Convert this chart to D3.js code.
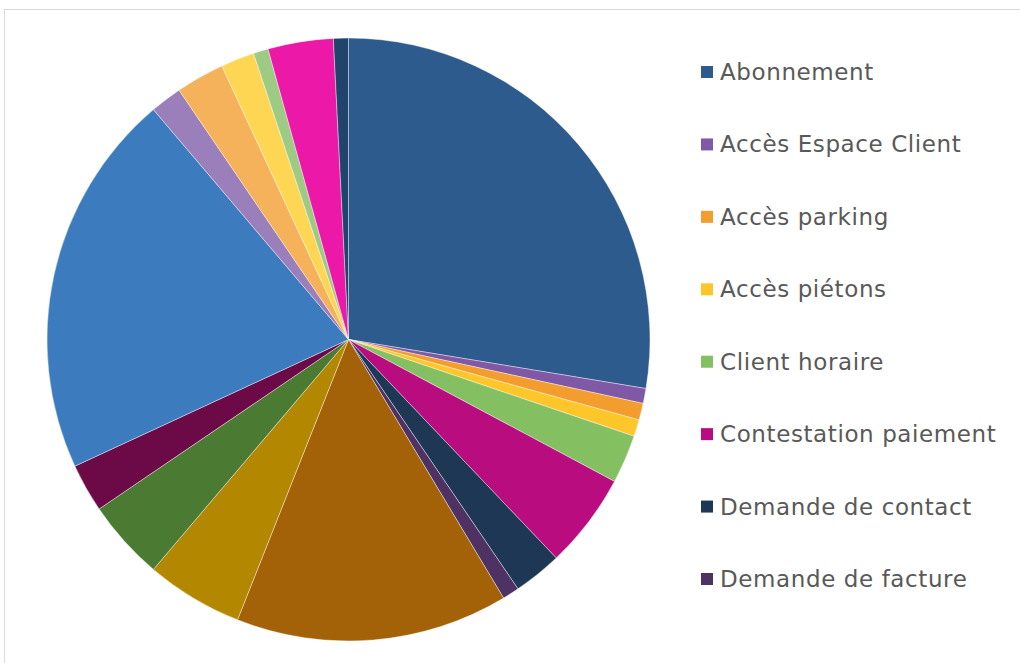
<!DOCTYPE html>
<html>
<head>
<meta charset="utf-8">
<script src="https://cdn.jsdelivr.net/npm/d3@7"></script>
<style>
  html, body { margin: 0; padding: 0; background: #fff; }
  svg { display: block; }
  .legend text { font-family: "DejaVu Sans", sans-serif; fill: #595959; }
</style>
</head>
<body>
<div id="chart"></div>
<script>
// categories, clockwise from 12 o'clock (only the first 8 fit in the legend)
var categories = [
  "Abonnement", "Accès Espace Client", "Accès parking", "Accès piétons",
  "Client horaire", "Contestation paiement", "Demande de contact", "Demande de facture",
  "Demande de remboursement", "Dysfonctionnement", "Horaires", "Information",
  "Moyen de paiement", "Perte de badge", "Réclamation", "Réservation",
  "Résiliation", "Tarifs", "Ticket perdu"
];
// share of each category, %
var shares = [27.6, 0.8, 0.9, 0.9, 2.6, 5.1, 2.6, 0.9, 14.6, 5.2, 4.3, 2.6, 20.7, 1.7, 2.6, 1.8, 0.8, 3.5, 0.8];
var colors = [
  "#2E5B8D", "#7F58A6", "#F29D2E", "#FFC62A", "#84BF62", "#B90C7F", "#1E3755", "#4E3264",
  "#A36207", "#B38700", "#4B7A32", "#6B0A47", "#3D7BBF", "#9A7FBB", "#F5B25A", "#FFD653",
  "#9DCB84", "#EC18A8", "#20446C"
];
var legendCount = 8;

var width = 1020, height = 663;
var cx = 348.5, cy = 339.5, radius = 301.5;

var data = categories.map(function(c, i) { return { name: c, value: shares[i], color: colors[i] }; });

var svg = d3.select("#chart").append("svg")
    .attr("width", width)
    .attr("height", height);

// chart area border (runs off the right and bottom edges)
svg.append("rect")
    .attr("x", 4.5).attr("y", 9.5)
    .attr("width", width).attr("height", height)
    .attr("fill", "none")
    .attr("stroke", "#D9D9D9")
    .attr("stroke-width", 1);

var pie = d3.pie().sort(null).value(function(d) { return d.value; });
var arc = d3.arc().innerRadius(0).outerRadius(radius);

svg.append("g")
    .attr("transform", "translate(" + cx + "," + cy + ")")
  .selectAll("path")
    .data(pie(data))
    .enter().append("path")
    .attr("d", arc)
    .attr("fill", function(d) { return d.data.color; })
    .attr("stroke", "#fff")
    .attr("stroke-width", 0.4);

// legend
var legendY = d3.scalePoint()
    .domain(d3.range(legendCount))
    .range([72, 579]);

var legend = svg.append("g").attr("class", "legend")
  .selectAll("g")
    .data(data.slice(0, legendCount))
    .enter().append("g")
    .attr("transform", function(d, i) { return "translate(701," + legendY(i) + ")"; });

legend.append("rect")
    .attr("x", 0).attr("y", -6)
    .attr("width", 12).attr("height", 12)
    .attr("fill", function(d) { return d.color; });

legend.append("text")
    .attr("x", 19).attr("y", 8)
    .attr("font-size", 23)
    .attr("letter-spacing", 0.6)
    .text(function(d) { return d.name; });
</script>
</body>
</html>
